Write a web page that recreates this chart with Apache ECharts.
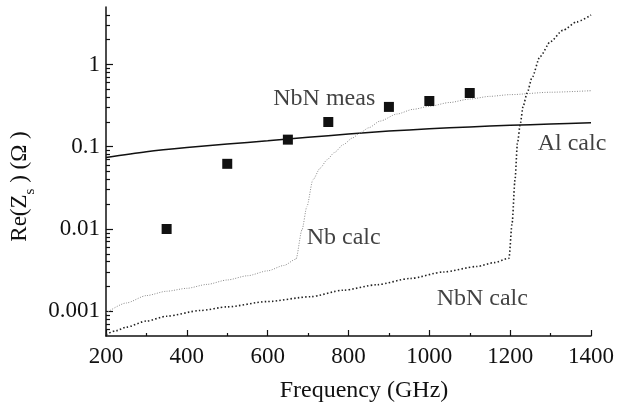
<!DOCTYPE html>
<html>
<head>
<meta charset="utf-8">
<script src="https://cdn.jsdelivr.net/npm/echarts@6/dist/echarts.min.js"></script>
<style>
    html, body { margin: 0; padding: 0; background: #fff; }
    #chart { width: 620px; height: 408px; }
</style>
</head>
<body>
<div id="chart"></div>
<script>
// measured NbN surface resistance (squares)
const measFreq = [350, 500, 650, 750, 900, 1000, 1100]
const measVal = [0.01, 0.062, 0.122, 0.2, 0.305, 0.36, 0.45]

// Al calc (solid)
const alFreq = [200, 300, 400, 500, 600, 700, 800, 900, 1000, 1100, 1200, 1300, 1400]
const alVal = [0.074, 0.087, 0.098, 0.108, 0.118, 0.13, 0.143, 0.155, 0.165, 0.174, 0.182, 0.189, 0.196]

// Nb calc (grey dotted)
const nbFreq = [200, 250, 300, 350, 400, 450, 500, 550, 600, 640, 670, 685, 697, 712, 730, 747, 765, 787, 810, 829, 850, 878, 920, 960, 1000, 1050, 1100, 1150, 1200, 1300, 1400]
const nbVal = [0.00095, 0.00126, 0.00155, 0.00175, 0.0019, 0.00212, 0.0024, 0.0027, 0.0031, 0.0036, 0.0043, 0.0098, 0.0187, 0.0397, 0.055, 0.0695, 0.085, 0.106, 0.128, 0.148, 0.17, 0.205, 0.25, 0.285, 0.31, 0.345, 0.38, 0.41, 0.43, 0.46, 0.48]

// NbN calc (black dotted)
const nbnFreq = [200, 225, 250, 300, 350, 433, 500, 598, 705, 787, 870, 952, 1035, 1118, 1160, 1197, 1205, 1212, 1218, 1225, 1232, 1242, 1254, 1274, 1300, 1330, 1365, 1400]
const nbnVal = [0.00052, 0.00058, 0.00064, 0.00076, 0.00087, 0.00102, 0.00113, 0.00131, 0.0015, 0.0018, 0.0021, 0.0025, 0.003, 0.0035, 0.0039, 0.0044, 0.012, 0.04, 0.11, 0.19, 0.31, 0.45, 0.69, 1.25, 1.9, 2.6, 3.3, 4.0]

const yMin = 0.0005
const yMax = 5
const majorTicks = [0.001, 0.01, 0.1, 1]
const minorTicks = [0.0006, 0.0007, 0.0008, 0.0009,
    0.002, 0.003, 0.004, 0.005, 0.006, 0.007, 0.008, 0.009,
    0.02, 0.03, 0.04, 0.05, 0.06, 0.07, 0.08, 0.09,
    0.2, 0.3, 0.4, 0.5, 0.6, 0.7, 0.8, 0.9,
    2, 3, 4]

const pairs = (xs, ys) => xs.map((x, i) => [x, ys[i]])
const serif = 'Liberation Serif'
const ink = '#111'

const fmtPow = (v) => {
    const e = Math.round(Math.log10(v))
    if (Math.abs(Math.log10(v) - e) > 1e-6) return ''
    return e >= 0 ? String(Math.pow(10, e)) : '0.' + '0'.repeat(-e - 1) + '1'
}

// helper axis in log10 units that only carries tick marks
const tickAxis = (vals, len) => ({
    type: 'value',
    min: Math.log10(yMin),
    max: Math.log10(yMax),
    position: 'left',
    axisLine: { show: false },
    axisLabel: { show: false },
    splitLine: { show: false },
    axisTick: {
        show: true, inside: true, length: len,
        customValues: vals.map(Math.log10),
        lineStyle: { color: ink, width: 1.2 }
    }
})

const noteLabel = (text) => ({
    show: true,
    formatter: text,
    position: [0, 0],
    align: 'center',
    verticalAlign: 'middle',
    fontFamily: serif,
    fontSize: 24,
    color: ink
})

const chart = echarts.init(document.getElementById('chart'))
chart.setOption({
    animation: false,
    grid: { left: 106, right: 29, top: 7, bottom: 72 },
    xAxis: {
        type: 'value',
        min: 200,
        max: 1400,
        interval: 200,
        name: 'Frequency (GHz)',
        nameLocation: 'middle',
        nameGap: 43,
        nameTextStyle: { fontFamily: serif, fontSize: 24, color: ink, padding: [0, 0, 0, 31] },
        axisLine: { onZero: false, lineStyle: { color: ink, width: 1.5 } },
        axisTick: { inside: true, length: 6, lineStyle: { color: ink, width: 1.2 } },
        minorTick: { show: true, splitNumber: 2, length: 3, lineStyle: { color: ink, width: 1.2 } },
        splitLine: { show: false },
        minorSplitLine: { show: false },
        axisLabel: { fontFamily: serif, fontSize: 23, color: ink, margin: 9, formatter: (v) => String(v) }
    },
    yAxis: [
        {
            type: 'log',
            logBase: 10,
            min: yMin,
            max: yMax,
            name: 'Re(Z{s|s} ) (Ω )',
            nameLocation: 'middle',
            nameRotate: 90,
            nameGap: 58,
            nameTextStyle: {
                fontFamily: serif, fontSize: 23, color: ink, padding: [0, 30, 0, 0],
                rich: { s: { fontFamily: serif, fontSize: 15, color: ink, verticalAlign: 'bottom', padding: [0, 0, -6, 0] } }
            },
            axisLine: { show: true, lineStyle: { color: ink, width: 1.5 } },
            axisTick: { show: false },
            splitLine: { show: false },
            axisLabel: { fontFamily: serif, fontSize: 23, color: ink, margin: 6, formatter: fmtPow }
        },
        tickAxis(majorTicks, 7),
        tickAxis(minorTicks, 4)
    ],
    series: [
        {
            name: 'Al calc',
            type: 'line',
            data: pairs(alFreq, alVal),
            smooth: 0.3,
            showSymbol: false,
            lineStyle: { color: ink, width: 1.5 }
        },
        {
            name: 'Nb calc',
            type: 'line',
            data: pairs(nbFreq, nbVal),
            smooth: 0.25,
            smoothMonotone: 'x',
            showSymbol: false,
            lineStyle: { color: '#8a8a8a', width: 1, type: [1, 1.5] }
        },
        {
            name: 'NbN calc',
            type: 'line',
            data: pairs(nbnFreq, nbnVal),
            smooth: 0.25,
            smoothMonotone: 'x',
            showSymbol: false,
            lineStyle: { color: '#222', width: 1.6, type: [1.5, 2.2] }
        },
        {
            name: 'NbN meas',
            type: 'scatter',
            data: pairs(measFreq, measVal),
            symbol: 'rect',
            symbolSize: 10,
            itemStyle: { color: '#111', opacity: 1 },
            z: 5
        },
        {
            name: 'notes',
            type: 'scatter',
            symbolSize: 0,
            silent: true,
            data: [
                { value: [740, 0.389], label: noteLabel('NbN meas') },
                { value: [1353, 0.109], label: noteLabel('Al calc') },
                { value: [788, 0.0079], label: noteLabel('Nb calc') },
                { value: [1131, 0.00142], label: noteLabel('NbN calc') }
            ]
        }
    ]
})
</script>
</body>
</html>
